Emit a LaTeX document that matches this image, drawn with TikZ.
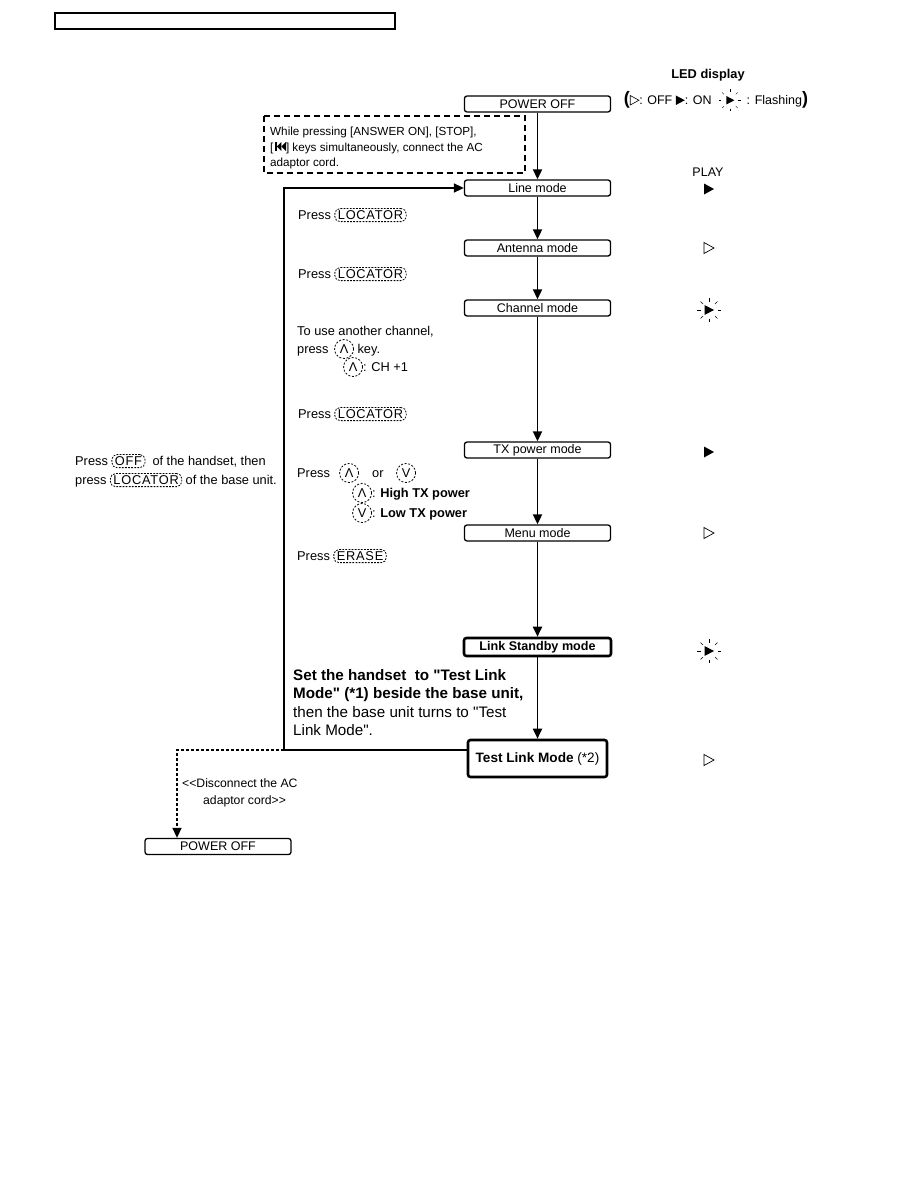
\documentclass[tikz,border=0pt]{standalone}
\usepackage{fontspec}
\setmainfont{Liberation Sans}
\usetikzlibrary{arrows.meta}
\newcommand\keyb[1]{\tikz[baseline=(kk.base)]\node[draw,line width=0.8pt,dash pattern=on 1.8pt off 1.3pt,rounded corners=5pt,inner xsep=3pt,inner ysep=2pt](kk){\addfontfeatures{LetterSpace=6}#1};}
\newcommand\ckey[1]{\tikz[baseline=(kk.base)]\node[draw,line width=0.8pt,dash pattern=on 2pt off 1.6pt,circle,inner sep=0pt,minimum size=19pt,text height=9pt,text depth=0pt](kk){#1};}
\newcommand\upk{\ckey{Λ}}
\newcommand\dnk{\ckey{V}}
\newcommand\ledoffi{\tikz[baseline=0pt]\draw[line width=0.6pt,line join=miter] (0.3pt,0pt)--(0.3pt,9.5pt)--(9pt,4.75pt)--cycle;}
\newcommand\ledoni{\tikz[baseline=0pt]\fill (0pt,0pt)--(0pt,9.5pt)--(9pt,4.75pt)--cycle;}
\newcommand\ledflashi{\tikz[baseline=0pt]{\fill (0pt,0.5pt)--(0pt,9pt)--(8pt,4.75pt)--cycle;
  \begin{scope}[shift={(3.5pt,4.75pt)}]\foreach \a in {0,45,...,315}{\draw[line width=0.5pt] (\a:8.5pt)--(\a:11pt);}\end{scope}}}
\newcommand\skipb{\tikz[baseline=0pt]{\fill (0pt,0pt) rectangle (1.4pt,9pt); \fill (1.4pt,4.5pt)--(6pt,9pt)--(6pt,0pt)--cycle; \fill (6pt,4.5pt)--(10.6pt,9pt)--(10.6pt,0pt)--cycle;}}
\newcommand\qq{\textquotedbl}
\tikzset{
  box/.style={draw,line width=1.3pt,rounded corners=2.5pt,minimum width=146pt,minimum height=16pt,inner sep=0pt,font=\fontsize{12.5}{14}\selectfont},
  tbox/.style={box,line width=2.6pt,font=\fontsize{12.6}{14}\selectfont\bfseries},
  txt/.style={anchor=base west,inner sep=0pt,font=\fontsize{12.8}{14}\selectfont},
  big/.style={txt,font=\fontsize{15.2}{18}\selectfont},
  arr/.style={line width=1.8pt,-{Triangle[length=10pt,width=9pt]}},
  ledon/.pic={\fill (-5,-5.5)--(5,0)--(-5,5.5)--cycle;},
  ledoff/.pic={\draw[line width=0.7pt,line join=miter] (-5,-5.5)--(5,0)--(-5,5.5)--cycle;},
  ledflash/.pic={\fill (-4.5,-5)--(5,0)--(-4.5,5)--cycle;
     \foreach \a in {0,45,...,315}{\draw[line width=0.6pt] (\a:8.5)--(\a:12);}}
}
\begin{document}
\begin{tikzpicture}[x=1pt,y=-1pt]
\useasboundingbox (0,0) rectangle (918,1188);
\draw[line width=1.4pt] (55,13) rectangle (395,29);

% LED legend
\node[font=\fontsize{12.8}{14}\selectfont\bfseries] (ledt) at (708,75) {LED display};
\node[anchor=base,inner sep=0pt,font=\fontsize{12.5}{14}\selectfont] (leg) at (716,105)
  {{\fontsize{18}{18}\selectfont\bfseries(}\ledoffi: OFF \ledoni: ON \ \ledflashi\ \,: Flashing{\fontsize{18}{18}\selectfont\bfseries)}};

% main boxes
\node[box] (p1) at (537.5,104) {POWER OFF};
\node[box] (line) at (537.5,188) {Line mode};
\node[box] (ant) at (537.5,248) {Antenna mode};
\node[box] (chan) at (537.5,308) {Channel mode};
\node[box] (tx) at (537.5,450) {TX power mode};
\node[box] (menu) at (537.5,533) {Menu mode};
\node[tbox,minimum width=147pt,minimum height=18pt] (link) at (537.5,647) {Link Standby mode};
\node[tbox,minimum width=139pt,minimum height=37pt,font=\fontsize{13.6}{15}\selectfont\bfseries] (test) at (537.5,758.5) {Test Link Mode \mdseries(*2)};
\node[box] (p2) at (218,846.5) {POWER OFF};

% arrows
\draw[arr] (p1) -- (line);
\draw[arr] (line) -- (ant);
\draw[arr] (ant) -- (chan);
\draw[arr] (chan) -- (tx);
\draw[arr] (tx) -- (menu);
\draw[arr] (menu) -- (link);
\draw[arr] (link) -- (test);

\coordinate (c1) at (284,750);
\coordinate (c2) at (177,750);
\draw[line width=1.6pt] (test.west |- c1) -- (c1);
\draw[arr,line width=1.6pt] (c1) |- (line.west);
\draw[arr,line width=1.5pt,dash pattern=on 3pt off 2pt] (c1) -- (c2) -- (c2 |- p2.north);

% dashed instruction box
\draw[line width=1.4pt,dash pattern=on 6pt off 4pt] (264,116) rectangle (525,173);
\node[txt,font=\fontsize{11.7}{14}\selectfont] (d1) at (270,135.5) {While pressing [ANSWER ON], [STOP],};
\node[txt,font=\fontsize{11.7}{14}\selectfont] (d2) at (270,151) {[\,\skipb] keys simultaneously, connect the AC};
\node[txt,font=\fontsize{11.7}{14}\selectfont] (d3) at (270,166.5) {adaptor cord.};

% left annotations
\node[txt] (k1) at (298,219.5) {Press \keyb{LOCATOR}};
\node[txt] (k2) at (298,278.5) {Press \keyb{LOCATOR}};
\node[txt] (ch1) at (297,335) {To use another channel,};
\node[txt] (ch2) at (297,353.5) {press \,\upk\ key.};
\node[txt] (ch3) at (343,371.5) {\upk: CH +1};
\node[txt] (k3) at (298,418.5) {Press \keyb{LOCATOR}};
\node[txt] (tx1) at (297,477.5) {Press};
\node[txt] (tx1a) at (339,477.5) {\upk};
\node[txt] (tx1b) at (372,477.5) {or};
\node[txt] (tx1c) at (396,477.5) {\dnk};
\node[txt] (tx2) at (352,497.5) {\upk: \bfseries High TX power};
\node[txt] (tx3) at (352,517.5) {\dnk: \bfseries Low TX power};
\node[txt] (er) at (297,560.5) {Press \keyb{ERASE}};

\node[txt] (o1) at (75,465.5) {Press \keyb{OFF} \ of the handset, then};
\node[txt] (o2) at (75,484.5) {press \keyb{LOCATOR} of the base unit.};

\node[big,font=\fontsize{15.2}{18}\selectfont\bfseries] (s1) at (293,680) {Set the handset \ to \qq Test Link};
\node[big,font=\fontsize{15.2}{18}\selectfont\bfseries] (s2) at (293,698.5) {Mode\qq\ (*1) beside the base unit,};
\node[big] (s3) at (293,717) {then the base unit turns to \qq Test};
\node[big] (s4) at (293,735.5) {Link Mode\qq.};

\node[txt,font=\fontsize{12.2}{14}\selectfont] (dc1) at (182,787.5) {<{}<Disconnect the AC};
\node[txt,font=\fontsize{12.2}{14}\selectfont] (dc2) at (203,804.5) {adaptor cord>{}>};

% LED column
\node[font=\fontsize{12.5}{14}\selectfont] (play) at (708,172) {PLAY};
\pic at (709,189) {ledon};
\pic at (709,248) {ledoff};
\pic at (709,310) {ledflash};
\pic at (709,452) {ledon};
\pic at (709,533) {ledoff};
\pic at (709,651) {ledflash};
\pic at (709,760) {ledoff};
\end{tikzpicture}
\end{document}
